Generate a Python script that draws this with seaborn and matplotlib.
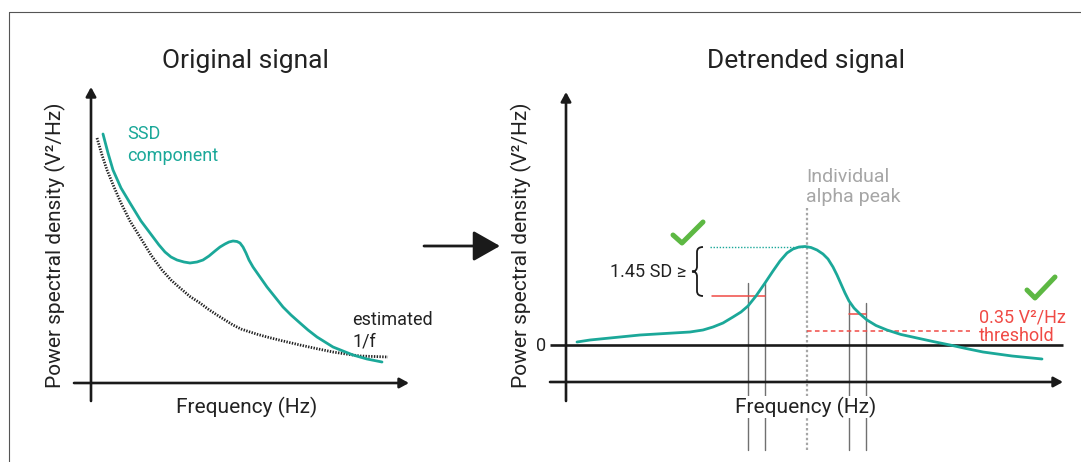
import numpy as np
import pandas as pd
import matplotlib
matplotlib.use("Agg")
import matplotlib.pyplot as plt
from matplotlib.path import Path
from matplotlib.patches import PathPatch
from matplotlib.lines import Line2D
import seaborn as sns

# Left panel: original spectrum of the SSD component
ssd_freq = [1.2, 1.7, 2.2, 3.0, 3.9, 5.0, 6.2, 6.8, 7.4, 8.0, 8.6, 9.3, 9.9, 10.6, 11.2,
            11.8, 12.4, 12.9, 13.4, 13.8, 14.2, 14.6, 14.9, 15.2, 15.5, 15.8, 16.2, 16.9,
            17.6, 18.4, 19.2, 20.0, 20.9, 21.7, 22.6, 23.4, 24.2, 25.2, 26.2, 27.6, 29.1]
ssd_power = [24.9, 23.0, 21.3, 19.5, 18.0, 16.2, 14.6, 13.8, 13.1, 12.6, 12.3, 12.1, 12.0,
             12.1, 12.3, 12.7, 13.2, 13.6, 13.9, 14.1, 14.2, 14.15, 14.0, 13.6, 13.0, 12.3,
             11.6, 10.6, 9.6, 8.6, 7.6, 6.8, 6.0, 5.3, 4.6, 4.1, 3.6, 3.2, 2.8, 2.4, 2.1]
# Left panel: estimated 1/f fit
fit_freq = [0.6, 1.1, 1.6, 2.3, 3.0, 3.9, 4.9, 6.0, 7.1, 8.0, 8.9, 9.9, 10.9, 11.7, 12.6,
            13.4, 14.2, 15.0, 15.9, 16.7, 17.6, 19.2, 20.9, 22.5, 24.2, 25.5, 26.9, 28.3, 29.7]
fit_power = [24.5, 22.8, 21.3, 19.6, 18.0, 16.2, 14.6, 12.8, 11.3, 10.3, 9.5, 8.65, 8.0,
             7.4, 6.8, 6.3, 5.8, 5.4, 5.1, 4.85, 4.6, 4.2, 3.8, 3.45, 3.1, 2.9, 2.7, 2.65, 2.6]

# Right panel: detrended spectrum
det_freq = [1.1, 2.4, 4.4, 7.4, 9.9, 12.4, 13.7, 14.7, 15.7, 16.7, 17.5, 18.2, 19.0, 19.9,
            20.7, 21.4, 22.1, 22.7, 23.3, 23.9, 24.5, 25.1, 25.7, 26.2, 26.7, 27.1, 27.5,
            27.9, 28.3, 28.8, 29.4, 30.1, 31.0, 32.1, 33.5, 35.1, 36.7, 38.4, 40.0, 41.7,
            44.6, 47.6]
det_power = [0.3, 0.5, 0.7, 1.0, 1.15, 1.3, 1.5, 1.8, 2.2, 2.8, 3.3, 3.9, 4.9, 6.2,
             7.4, 8.4, 9.2, 9.6, 9.8, 9.85, 9.75, 9.5, 9.1, 8.6, 7.8, 7.0, 6.1,
             5.2, 4.4, 3.7, 3.1, 2.5, 1.95, 1.5, 1.05, 0.7, 0.35, 0.0, -0.35, -0.7,
             -1.1, -1.4]

peak_freq = 24.1          # individual alpha peak
peak_power = 9.8
sd_level = 4.9            # peak - 1.45 SD level
threshold = 1.4           # 0.35 V^2/Hz threshold level
right_edge_level = 3.1
left_band = [18.2, 19.9]  # frequency bounds, left flank
right_band = [28.3, 30.0] # frequency bounds, right flank

# ---------------- style ----------------
sns.set_theme(style="white")
plt.rcParams['font.family'] = ['Roboto', 'DejaVu Sans']

TEAL = "#1ba899"
RED = "#f04a45"
GREEN = "#5db843"
GRAY = "#a6a6a6"
DARK = "#222222"
AX = "#1a1a1a"

W, H = 1081, 462
fig = plt.figure(figsize=(W / 100, H / 100), dpi=100)
fig.patch.set_facecolor("white")

# each panel axes spans the whole figure, 10 px per unit, origin at the axis crossing
def make_ax(ox, oy):
    ax = fig.add_axes([0, 0, 1, 1])
    ax.set_xlim((0 - ox) / 10, (W - ox) / 10)
    ax.set_ylim((oy - H) / 10, oy / 10)
    ax.axis("off")
    ax.patch.set_alpha(0)
    return ax

axL = make_ax(91, 383)
axR = make_ax(566, 345)

# frame lines
fig.add_artist(Line2D([9 / W, 1], [1 - 12 / H, 1 - 12 / H], color="#555555", lw=0.8))
fig.add_artist(Line2D([9 / W, 9 / W], [1 - 12 / H, 0], color="#555555", lw=0.8))

def arrow(ax, start, tip, lw=1.9, hl=0.55, hw=0.3):
    ax.annotate("", xy=tip, xytext=start,
                arrowprops=dict(arrowstyle=f"-|>,head_length={hl},head_width={hw}",
                                lw=lw, color=AX, shrinkA=0, shrinkB=0, mutation_scale=10))

# ---------------- left panel ----------------
arrow(axL, (0, -1.8), (0, 29.6))
arrow(axL, (-1.7, 0), (31.8, 0))

df_fit = pd.DataFrame({"f": fit_freq, "p": fit_power})
df_ssd = pd.DataFrame({"f": ssd_freq, "p": ssd_power})
sns.lineplot(data=df_fit, x="f", y="p", ax=axL, sort=False, estimator=None,
             color=DARK, lw=2.0, linestyle=(0, (0.5, 0.5)))
sns.lineplot(data=df_ssd, x="f", y="p", ax=axL, sort=False, estimator=None,
             color=TEAL, lw=2.0, solid_joinstyle="round")

axL.text(15.45, 31.5, "Original signal", fontsize=19, color=DARK, ha="center", va="baseline")
axL.text(-3.6, 13.8, "Power spectral density (V²/Hz)", fontsize=15, color=DARK,
         rotation=90, ha="center", va="center", rotation_mode="anchor")
axL.text(15.6, -3.0, "Frequency (Hz)", fontsize=15, color=DARK, ha="center", va="baseline")
axL.text(3.6, 24.4, "SSD", fontsize=13, color=TEAL, ha="left", va="baseline")
axL.text(3.6, 22.2, "component", fontsize=13, color=TEAL, ha="left", va="baseline")
axL.text(26.1, 5.8, "estimated", fontsize=13, color=DARK, ha="left", va="baseline")
axL.text(26.1, 3.6, "1/f", fontsize=13, color=DARK, ha="left", va="baseline")

# big arrow between panels
arrow(axL, (33.3, 13.7), (40.9, 13.7), lw=2.0, hl=1.66, hw=0.94)

# ---------------- right panel ----------------
arrow(axR, (0, -5.6), (0, 25.3))
arrow(axR, (-1.6, -3.7), (49.7, -3.7))
axR.plot([-1.6, 49.7], [0, 0], color=AX, lw=1.9, solid_capstyle="butt", zorder=2)
axR.text(-2.0, -0.1, "0", fontsize=13, color=DARK, ha="right", va="center")

# frequency band verticals
for xb in left_band:
    axR.plot([xb, xb], [-10.5, 6.2], color="#707070", lw=1.0, zorder=1)
for xb in right_band:
    axR.plot([xb, xb], [-10.5, 4.2], color="#707070", lw=1.0, zorder=1)
# peak marker
axR.plot([peak_freq, peak_freq], [-10.5, 13.7], color=GRAY, lw=1.6,
         linestyle=(0, (1.1, 1.1)), zorder=1)

df_det = pd.DataFrame({"f": det_freq, "p": det_power})
sns.lineplot(data=df_det, x="f", y="p", ax=axR, sort=False, estimator=None,
             color=TEAL, lw=2.0, zorder=3, solid_joinstyle="round")

# peak level dotted line and SD / threshold levels
axR.plot([14.4, 23.7], [peak_power, peak_power], color=TEAL, lw=1.0,
         linestyle=(0, (1, 1.2)), zorder=2)
axR.plot([14.6, left_band[1]], [sd_level, sd_level], color=RED, lw=1.1, zorder=2)
axR.plot(right_band, [right_edge_level, right_edge_level], color=RED, lw=1.1, zorder=2)
axR.plot([peak_freq, 40.4], [threshold, threshold], color=RED, lw=1.1,
         linestyle=(0, (3, 2.2)), zorder=2)

# brace
xr, xs, xl = 13.7, 13.1, 12.6
yt, yb = peak_power, sd_level
ym = (yt + yb) / 2
verts = [(xr, yt), (xs, yt), (xs, yt - 0.5), (xs, ym + 0.5), (xs, ym), (xl, ym),
         (xs, ym), (xs, ym - 0.5), (xs, yb + 0.5), (xs, yb), (xr, yb)]
codes = [Path.MOVETO, Path.CURVE3, Path.CURVE3, Path.LINETO, Path.CURVE3, Path.CURVE3,
         Path.CURVE3, Path.CURVE3, Path.LINETO, Path.CURVE3, Path.CURVE3]
axR.add_patch(PathPatch(Path(verts, codes), fill=False, lw=1.3, color=AX, zorder=3))

axR.text(12.0, 7.3, "1.45 SD ≥", fontsize=13, color=DARK, ha="right", va="center")
axR.text(24.0, 16.3, "Individual", fontsize=14, color=GRAY, ha="left", va="baseline")
axR.text(24.0, 14.3, "alpha peak", fontsize=14, color=GRAY, ha="left", va="baseline")
axR.text(41.3, 2.3, "0.35 V²/Hz", fontsize=13, color=RED, ha="left", va="baseline")
axR.text(41.3, 0.4, "threshold", fontsize=13, color=RED, ha="left", va="baseline")

# check marks
axR.plot([10.7, 11.6, 13.7], [11.0, 10.2, 12.3], color=GREEN, lw=3.6,
         solid_capstyle="round", solid_joinstyle="round", zorder=4)
axR.plot([46.1, 46.9, 48.9], [5.5, 4.7, 6.8], color=GREEN, lw=3.6,
         solid_capstyle="round", solid_joinstyle="round", zorder=4)

axR.text(24.0, 27.7, "Detrended signal", fontsize=19, color=DARK, ha="center", va="baseline")
axR.text(-4.5, 10.0, "Power spectral density (V²/Hz)", fontsize=15, color=DARK,
         rotation=90, ha="center", va="center", rotation_mode="anchor")
axR.text(24.0, -6.8, "Frequency (Hz)", fontsize=15, color=DARK, ha="center", va="baseline",
         zorder=5, bbox=dict(facecolor="white", edgecolor="none", pad=0.5))

fig.savefig("out.png", dpi=100, facecolor="white")
